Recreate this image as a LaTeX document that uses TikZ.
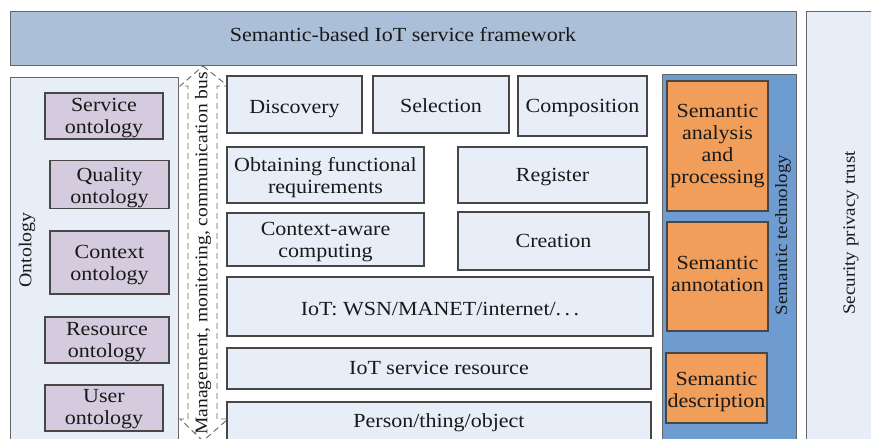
\documentclass[tikz,border=0pt]{standalone}
\usepackage{fontspec}
\setmainfont{Liberation Serif}[FakeStretch=1.1]
\usetikzlibrary{calc}
\newcommand\tdn[1]{\rule{0pt}{#1pt}}
\newcommand\tup[1]{\rule[-#1pt]{0pt}{0pt}}
\begin{document}
\begin{tikzpicture}[x=1pt,y=-1pt,
  every node/.style={text=black!90, font=\fontsize{20}{22}\selectfont, align=center, inner sep=1pt},
  panel/.style={draw=black!60, line width=1pt},
  box/.style={draw=black!72, line width=1.2pt, fill=lightf},
  obox/.style={draw=black!72, line width=1.2pt, fill=lav},
  sbox/.style={draw=black!72, line width=1.2pt, fill=orng},
  sidelab/.style={rotate=90, font=\fontsize{17.3}{19}\selectfont}
]
\definecolor{topf}{HTML}{ACBFD9}
\definecolor{lightf}{HTML}{E7EEF8}
\definecolor{lav}{HTML}{D4CBDF}
\definecolor{semb}{HTML}{6E9BD0}
\definecolor{orng}{HTML}{F09E5A}
\useasboundingbox (0,0) rectangle (871,439);
\clip (0,0) rectangle (871,439);
\fill[white] (0,0) rectangle (871,439);

% top framework bar
\node[panel, fill=topf, minimum width=786pt, minimum height=54pt] (top) at (403,38) {Semantic-based IoT service framework\tup{7}};
% security column
\node[panel, fill=lightf, minimum width=90pt, minimum height=449pt] (sec) at (851,235.5) {};
\node[sidelab] (seclab) at (851,233) {Security privacy trust};

% ontology panel
\node[panel, fill=lightf, minimum width=168pt, minimum height=383pt] (ont) at (94,268.5) {};
\node[rotate=90, font=\fontsize{18}{20}\selectfont] (ontlab) at (27,250) {Ontology};
\node[obox, minimum width=118pt, minimum height=46pt] (serv) at (104,116) {\tdn{17.7}Service\\ontology};
\node[obox, minimum width=119pt, minimum height=45pt] (qual) at (109.5,184.5) {\tdn{19.7}Quality\\ontology};
\node[obox, minimum width=119pt, minimum height=63pt] (ctx) at (109.5,262.5) {\tdn{17.7}Context\\ontology};
\node[obox, minimum width=124pt, minimum height=46pt] (res) at (107,340) {\tdn{17.7}Resource\\ontology};
\node[obox, minimum width=118pt, minimum height=46pt] (user) at (104,408) {\tdn{15.7}User\\ontology};

% management bus (dashed double arrow)
\coordinate (bt) at (203,66);
\coordinate (bb) at (203,441);
\draw[black!60, line width=0.9pt, dash pattern=on 6pt off 4pt, fill=white]
  (bt) -- (228,86) -- (217,86) -- (217,419) -- (228,419) -- (bb) -- (180,419) -- (188,419) -- (188,86) -- (180,86) -- cycle;
\node[rotate=90, font=\fontsize{17.8}{19}\selectfont] (bus) at ($(bt)!0.5!(bb)$) {Management, monitoring, communication bus};

% service boxes
\node[box, minimum width=135pt, minimum height=57pt] (disc) at (294.5,104.5) {\tdn{21.7}Discovery};
\node[box, minimum width=136pt, minimum height=57pt] (sel) at (441,104.5) {\tdn{15.7}Selection};
\node[box, minimum width=129pt, minimum height=60pt] (comp) at (582.5,106) {\tdn{17.7}Composition};
\node[box, minimum width=197pt, minimum height=56pt] (obt) at (325.5,175) {\tdn{19.7}Obtaining functional\\requirements};
\node[box, minimum width=189pt, minimum height=56pt] (reg) at (552.5,175) {\tdn{17.7}Register};
\node[box, minimum width=197pt, minimum height=53pt] (cac) at (325.5,239.5) {\tdn{17.7}Context-aware\\computing};
\node[box, minimum width=191pt, minimum height=58pt] (cre) at (553.5,241) {Creation};
\node[box, minimum width=426pt, minimum height=59pt] (iot) at (440,306.5) {\tdn{17.7}IoT: WSN/MANET/internet/.\hspace{3.5pt}.\hspace{3.5pt}.};
\node[box, minimum width=424pt, minimum height=41pt] (isr) at (439,368.5) {IoT service resource\tup{2}};
\node[box, minimum width=424pt, minimum height=38pt] (pto) at (439,421) {\tdn{17.7}Person/thing/object};

% semantic technology panel
\node[panel, fill=semb, minimum width=134pt, minimum height=386pt] (sem) at (729,267) {};
\node[sidelab] (semlab) at (783,235) {Semantic technology};
\node[sbox, minimum width=101pt, minimum height=130pt] (sap) at (717.5,146) {Semantic\\analysis\\and\\processing};
\node[sbox, minimum width=101pt, minimum height=109pt] (san) at (717.5,276.5) {Semantic\\annotation\tup{6}};
\node[sbox, minimum width=101pt, minimum height=70pt] (sde) at (716.5,388) {\tdn{21.7}Semantic\\description};
\end{tikzpicture}
\end{document}
